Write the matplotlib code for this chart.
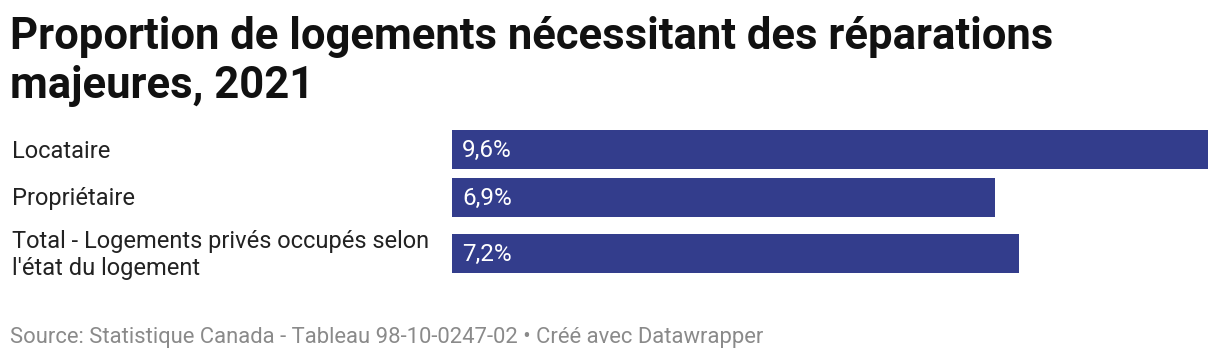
import matplotlib
matplotlib.use("Agg")
import matplotlib.pyplot as plt

plt.rcParams['font.family'] = ['Roboto', 'DejaVu Sans']

# données
categories = ["Locataire", "Propriétaire", "Total - Logements privés occupés selon\nl'état du logement"]
valeurs = [9.6, 6.9, 7.2]
etiquettes = ["9,6%", "6,9%", "7,2%"]

titre = "Proportion de logements nécessitant des réparations\nmajeures, 2021"
source = "Source: Statistique Canada - Tableau 98-10-0247-02 • Créé avec Datawrapper"

W, H = 1220, 360
fig = plt.figure(figsize=(W / 100, H / 100), dpi=100)

# axes des barres (en pixels de la figure)
x0, x1 = 452, 1208
y_top, y_bot = 130, 273
ax = fig.add_axes([x0 / W, 1 - y_bot / H, (x1 - x0) / W, (y_bot - y_top) / H])
ax.set_xlim(0, max(valeurs))
ax.set_ylim(y_bot, y_top)  # y en pixels, vers le bas
ax.axis('off')

# position verticale des lignes (la dernière a deux lignes de texte)
hauteur = 39
centres = [149.5, 197.5, 253.5]

ax.barh(centres, valeurs, height=hauteur, color="#333d8c")
for c, v, lab, cat in zip(centres, valeurs, etiquettes, categories):
    ax.text(0.13, c + 1, lab, color="white", fontsize=17.5, va="center", ha="left")
    fig.text(12 / W, 1 - (c + 1.5) / H, cat, fontsize=17, color="#222222",
             va="center", ha="left", linespacing=1.25)

fig.text(10 / W, 1 - 16 / H, titre, fontsize=31.4, fontweight="bold",
         color="#111111", va="top", ha="left", linespacing=1.22)
fig.text(10 / W, 1 - 338 / H, source, fontsize=15.8, color="#8a8a8a",
         va="center", ha="left")

fig.savefig("out.png", dpi=100)
